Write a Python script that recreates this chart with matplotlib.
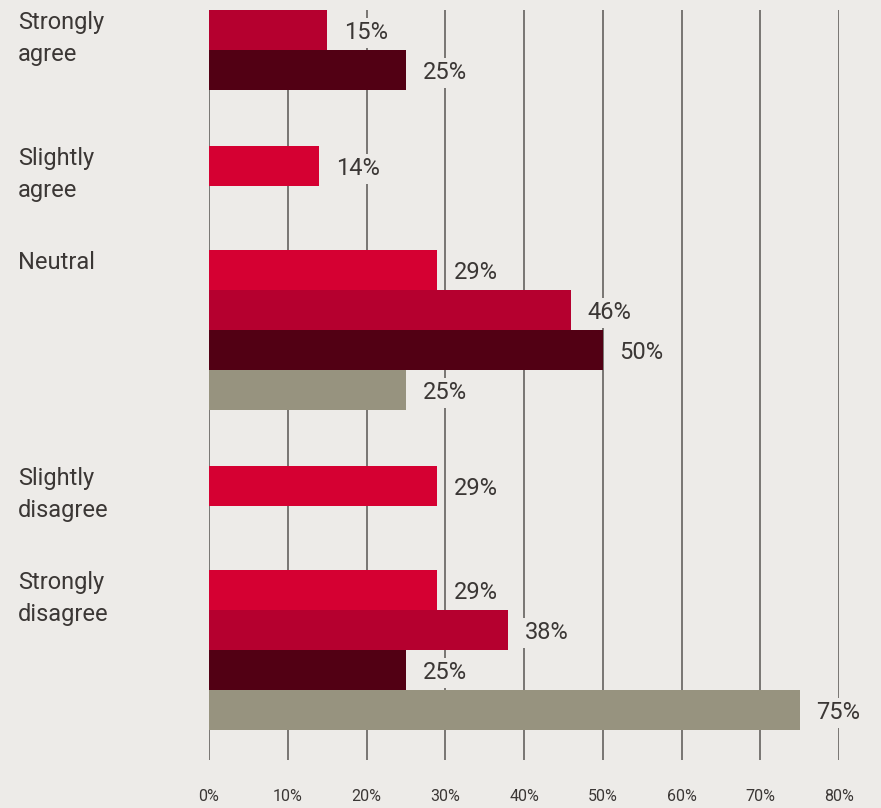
import matplotlib
matplotlib.use("Agg")
import matplotlib.pyplot as plt
import matplotlib.transforms as mtransforms

# data
categories = ["Strongly\nagree", "Slightly\nagree", "Neutral", "Slightly\ndisagree", "Strongly\ndisagree"]
series_a = [0, 14, 29, 29, 29]
series_b = [15, 0, 46, 0, 38]
series_c = [25, 0, 50, 0, 25]
series_d = [0, 0, 25, 0, 75]
xticks = [0, 10, 20, 30, 40, 50, 60, 70, 80]

colors = ["#d50032", "#b5002f", "#520014", "#97937f"]
bg = "#edebe8"
txt = "#3b3735"

plt.rcParams['font.family'] = ['Roboto', 'DejaVu Sans']

fig = plt.figure(figsize=(8.81, 8.08), dpi=100, facecolor=bg)
ax = fig.add_axes([209 / 881, 1 - 760 / 808, 630 / 881, 750 / 808])
ax.set_facecolor(bg)

all_series = [series_a, series_b, series_c, series_d]
cursor = 0.0
label_tr = mtransforms.blended_transform_factory(fig.transFigure, ax.transData)
for i, cat in enumerate(categories):
    start = cursor
    n = 0
    for s, col in zip(all_series, colors):
        v = s[i]
        if v <= 0:
            continue
        y = cursor + n + 0.5
        ax.barh(y, v, height=1.0, color=col, zorder=2)
        ax.annotate(f"{v}%", (v, y), xytext=(12, -2), textcoords="offset points",
                    va="center", ha="left", fontsize=17, color=txt, zorder=4,
                    bbox=dict(boxstyle="square,pad=0.15", fc=bg, ec="none"),
                    annotation_clip=False)
        n += 1
    ax.text(18 / 881, start + 0.02, cat, transform=label_tr, va="top", ha="left",
            fontsize=17, color=txt, linespacing=1.5)
    cursor += max(n + 1.4, 2.6)

ax.set_xlim(0, 80)
ax.set_ylim(18.75, 0)
ax.set_xticks(xticks)
ax.set_xticklabels([f"{t}%" for t in xticks], fontsize=11.5, color=txt)
ax.set_yticks([])
ax.tick_params(axis="x", length=0, pad=21)
ax.grid(axis="x", color="#6f6c69", linewidth=1.3, zorder=1)
ax.set_axisbelow(True)
for sp in ax.spines.values():
    sp.set_visible(False)

fig.savefig("out.png", dpi=100, facecolor=bg)
